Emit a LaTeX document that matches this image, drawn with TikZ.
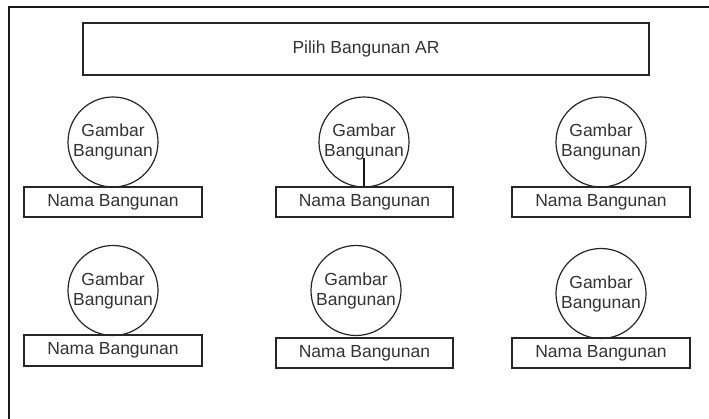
\documentclass[tikz,border=0pt]{standalone}
\usepackage{fontspec}
\setmainfont{Liberation Sans}
\begin{document}
\begin{tikzpicture}[x=1pt,y=-1pt,
  line width=1.2pt,
  every node/.style={text=black!80, font=\fontsize{17.5}{20}\selectfont},
  titlebox/.style={draw=black!85, rectangle, minimum width=566pt, minimum height=52pt, inner sep=0pt},
  picbox/.style={draw=black!85, circle, minimum size=90pt, inner sep=0pt, align=center},
  namebox/.style={draw=black!85, rectangle, minimum width=178pt, minimum height=30pt, inner sep=0pt}]
  \useasboundingbox (0,0) rectangle (709,419);
  \fill[white] (0,0) rectangle (709,419);

  % page frame (top and left edges)
  \coordinate (ftop) at (709,7);
  \coordinate (fcorner) at (9,7);
  \coordinate (fbottom) at (9,419);
  \draw[black!90] (ftop) -- (fcorner) -- (fbottom);

  % header
  \node[titlebox] (title) at (366,49) {Pilih Bangunan AR};

  % first row
  \node[picbox] (g1) at (113,142) {Gambar\\Bangunan};
  \node[namebox] (n1) at (113,202) {Nama Bangunan};
  \node[picbox] (g2) at (364,142) {Gambar\\Bangunan};
  \node[namebox, minimum width=177pt] (n2) at (364.5,202) {Nama Bangunan};
  \node[picbox] (g3) at (601,142) {Gambar\\Bangunan};
  \node[namebox] (n3) at (601,202) {Nama Bangunan};

  % small stem inside the middle picture
  \coordinate (stem) at (364,158);
  \draw[black!90] (stem) -- (stem |- n2.north);

  % second row
  \node[picbox] (g4) at (113,290.5) {Gambar\\Bangunan};
  \node[namebox, minimum height=31pt] (n4) at (113,350.5) {Nama Bangunan};
  \node[picbox] (g5) at (356,290.5) {Gambar\\Bangunan};
  \node[namebox, minimum width=177pt] (n5) at (364.5,353) {Nama Bangunan};
  \node[picbox] (g6) at (601,293.5) {Gambar\\Bangunan};
  \node[namebox] (n6) at (601,353) {Nama Bangunan};
\end{tikzpicture}
\end{document}
